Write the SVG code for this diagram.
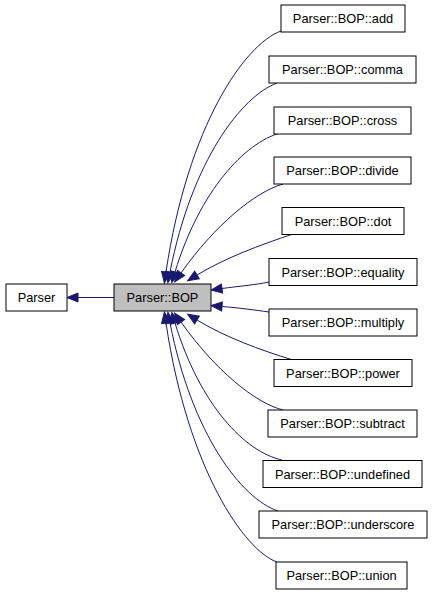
<svg xmlns="http://www.w3.org/2000/svg" width="432" height="595" viewBox="0 0 432 595">
<style>
.box{fill:#ffffff;stroke:#000000;stroke-width:1}
.cur{fill:#bfbfbf;stroke:#000000;stroke-width:1}
.lbl{font-family:"Liberation Sans",Arial,Helvetica,sans-serif;font-size:12.8px;fill:#000000;text-anchor:middle}
.edge{fill:none;stroke:#191970;stroke-width:1;marker-end:url(#ah)}
</style>
<defs>
<marker id="ah" viewBox="0 0 11 10" markerWidth="11" markerHeight="10" refX="0" refY="5" orient="auto" markerUnits="userSpaceOnUse" overflow="visible">
<path d="M0,0.5 L11,5 L0,9.5 Z" fill="#191970" stroke="#191970" stroke-width="1"/>
</marker>
</defs>
<rect width="432" height="595" fill="#ffffff"/>
<g id="edges">
<path class="edge" d="M114,297.5 L78,297.5"/>
<path class="edge" d="M281,31 C245,44 188,125 166,272"/>
<path class="edge" d="M277,83 C242,96 192,160 170,272"/>
<path class="edge" d="M280,133 C245,143 200,190 175,272"/>
<path class="edge" d="M283,184 C255,192 215,225 181,273"/>
<path class="edge" d="M293,234 C260,245 225,258 197,275"/>
<path class="edge" d="M269,282 C255,285 240,286 222,288.5"/>
<path class="edge" d="M269,312 C255,310 240,308 222,306.5"/>
<path class="edge" d="M293,360 C260,350 225,337 197,320"/>
<path class="edge" d="M283,410 C255,403 215,370 181,322"/>
<path class="edge" d="M282,460 C245,452 200,405 175,323"/>
<path class="edge" d="M278,511 C242,499 192,435 170,323"/>
<path class="edge" d="M277,562 C245,551 188,470 166,323"/>
</g>
<g id="Parser"><rect class="box" x="6" y="284" width="61" height="27"/><text class="lbl" x="36.5" y="302">Parser</text></g>
<g id="BOP"><rect class="cur" x="114" y="284" width="97" height="27"/><text class="lbl" x="162.5" y="302">Parser::BOP</text></g>
<g id="add"><rect class="box" x="281" y="5" width="124" height="27"/><text class="lbl" x="343" y="23">Parser::BOP::add</text></g>
<g id="comma"><rect class="box" x="269" y="56" width="147" height="27"/><text class="lbl" x="342.5" y="74">Parser::BOP::comma</text></g>
<g id="cross"><rect class="box" x="274" y="107" width="137" height="27"/><text class="lbl" x="342.5" y="125">Parser::BOP::cross</text></g>
<g id="divide"><rect class="box" x="274" y="157" width="137" height="27"/><text class="lbl" x="342.5" y="175">Parser::BOP::divide</text></g>
<g id="dot"><rect class="box" x="282" y="207.5" width="122" height="27"/><text class="lbl" x="343" y="225.5">Parser::BOP::dot</text></g>
<g id="equality"><rect class="box" x="269" y="258.5" width="148" height="27"/><text class="lbl" x="343" y="276.5">Parser::BOP::equality</text></g>
<g id="multiply"><rect class="box" x="269" y="309" width="148" height="27"/><text class="lbl" x="343" y="327">Parser::BOP::multiply</text></g>
<g id="power"><rect class="box" x="274" y="359.5" width="138" height="27"/><text class="lbl" x="343" y="377.5">Parser::BOP::power</text></g>
<g id="subtract"><rect class="box" x="268" y="410" width="149" height="27"/><text class="lbl" x="342.5" y="428">Parser::BOP::subtract</text></g>
<g id="undefined"><rect class="box" x="263" y="460.5" width="159" height="27"/><text class="lbl" x="342.5" y="478.5">Parser::BOP::undefined</text></g>
<g id="underscore"><rect class="box" x="259" y="511" width="168" height="27"/><text class="lbl" x="343" y="529">Parser::BOP::underscore</text></g>
<g id="union"><rect class="box" x="276" y="562" width="131" height="27"/><text class="lbl" x="341.5" y="580">Parser::BOP::union</text></g>
</svg>
